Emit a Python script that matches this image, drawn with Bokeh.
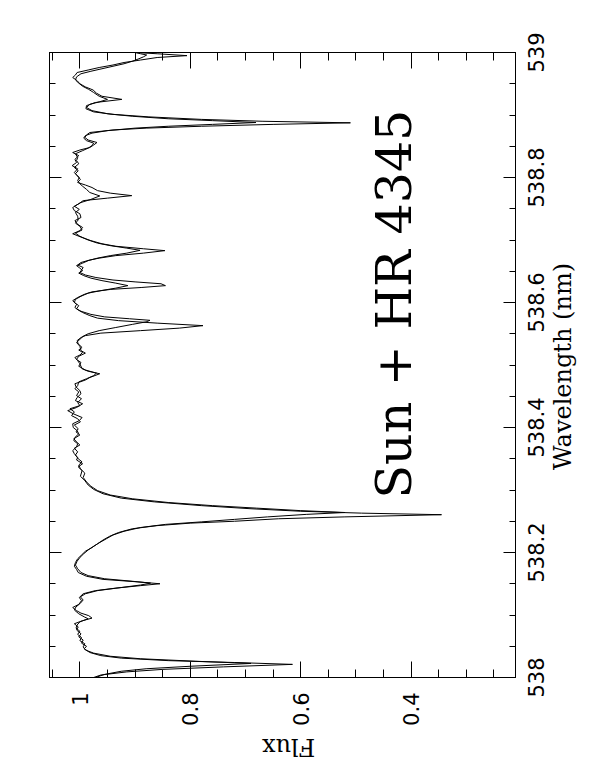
import math
from bokeh.plotting import figure
from bokeh.models import Range1d, LinearAxis, FixedTicker, Label
from bokeh.embed import file_html
from bokeh.resources import INLINE

# Spectrum 1 (wavelength in nm, normalised flux)
wl_a = [538.000, 538.004, 538.009, 538.013, 538.017, 538.021, 538.024, 538.027, 538.031, 538.035,
        538.040, 538.046, 538.050, 538.055, 538.060, 538.065, 538.070, 538.076, 538.081, 538.086,
        538.091, 538.095, 538.099, 538.103, 538.107, 538.112, 538.117, 538.123, 538.128, 538.134,
        538.139, 538.143, 538.147, 538.150, 538.153, 538.157, 538.162, 538.168, 538.173, 538.178,
        538.184, 538.190, 538.196, 538.202, 538.208, 538.214, 538.220, 538.226, 538.232, 538.238,
        538.243, 538.247, 538.250, 538.254, 538.257, 538.2605, 538.263, 538.266, 538.270, 538.275,
        538.281, 538.287, 538.294, 538.301, 538.308, 538.315, 538.322, 538.331, 538.337, 538.342,
        538.348, 538.352, 538.358, 538.363, 538.369, 538.374, 538.379, 538.384, 538.390, 538.395,
        538.400, 538.406, 538.411, 538.416, 538.422, 538.427, 538.432, 538.438, 538.443, 538.448,
        538.454, 538.459, 538.465, 538.470, 538.476, 538.480, 538.486, 538.490, 538.494, 538.502,
        538.507, 538.512, 538.516, 538.520, 538.524, 538.528, 538.534, 538.539, 538.544, 538.547,
        538.551, 538.555, 538.559, 538.563, 538.567, 538.571, 538.575, 538.579, 538.584, 538.588,
        538.592, 538.597, 538.603, 538.608, 538.613, 538.617, 538.621, 538.624, 538.627, 538.630,
        538.633, 538.636, 538.640, 538.644, 538.648, 538.652, 538.656, 538.660, 538.664, 538.668,
        538.671, 538.675, 538.679, 538.683, 538.686, 538.690, 538.694, 538.699, 538.704, 538.710,
        538.715, 538.720, 538.725, 538.731, 538.736, 538.742, 538.747, 538.752, 538.758, 538.763,
        538.767, 538.771, 538.775, 538.779, 538.784, 538.788, 538.792, 538.797, 538.803, 538.808,
        538.814, 538.819, 538.824, 538.829, 538.835, 538.840, 538.844, 538.848, 538.852, 538.856,
        538.860, 538.864, 538.868, 538.872, 538.876, 538.879, 538.882, 538.885, 538.8875, 538.890,
        538.893, 538.897, 538.901, 538.905, 538.910, 538.915, 538.920, 538.925, 538.930, 538.935,
        538.940, 538.945, 538.950, 538.955, 538.960, 538.964, 538.968, 538.972, 538.976, 538.980,
        538.984, 538.988, 538.992, 538.995, 538.998, 539.000]
flux_a = [0.975, 0.962, 0.915, 0.850, 0.740, 0.615, 0.720, 0.840, 0.925, 0.962,
          0.982, 0.992, 0.988, 0.997, 0.994, 1.002, 0.998, 1.006, 1.003, 1.010,
          0.995, 0.978, 0.984, 0.998, 1.006, 1.013, 1.002, 0.997, 1.001, 0.994,
          0.972, 0.935, 0.890, 0.855, 0.895, 0.958, 0.988, 1.003, 1.006, 1.010,
          1.008, 1.004, 0.997, 0.990, 0.978, 0.968, 0.958, 0.946, 0.930, 0.905,
          0.860, 0.800, 0.720, 0.640, 0.520, 0.345, 0.490, 0.600, 0.690, 0.780,
          0.865, 0.925, 0.958, 0.975, 0.985, 0.991, 0.999, 0.996, 1.003, 0.995,
          1.006, 1.004, 1.010, 1.013, 1.006, 1.004, 1.011, 1.009, 1.002, 1.005,
          1.012, 1.013, 1.001, 0.996, 1.012, 1.022, 1.006, 0.995, 1.008, 1.005,
          0.998, 1.000, 1.007, 1.009, 0.990, 0.982, 0.964, 0.985, 0.996, 1.000,
          1.004, 1.009, 1.000, 0.995, 1.002, 0.996, 1.003, 1.005, 0.998, 0.990,
          0.962, 0.890, 0.820, 0.777, 0.860, 0.930, 0.968, 0.982, 0.995, 1.003,
          1.009, 1.006, 1.013, 1.004, 0.992, 0.978, 0.944, 0.889, 0.845, 0.853,
          0.900, 0.940, 0.971, 0.990, 1.000, 0.997, 0.994, 1.004, 0.998, 0.982,
          0.965, 0.935, 0.885, 0.846, 0.885, 0.935, 0.960, 0.980, 0.996, 1.013,
          1.000, 0.995, 1.004, 1.009, 0.998, 1.000, 1.010, 1.013, 1.002, 0.994,
          0.950, 0.906, 0.945, 0.968, 0.978, 0.990, 1.004, 0.999, 1.005, 1.010,
          1.004, 1.014, 1.006, 1.009, 1.002, 1.013, 1.000, 0.982, 0.975, 0.969,
          0.985, 0.991, 0.988, 0.982, 0.940, 0.880, 0.780, 0.650, 0.510, 0.670,
          0.780, 0.875, 0.940, 0.975, 0.989, 0.988, 0.972, 0.924, 0.960, 0.970,
          0.976, 0.990, 1.000, 1.005, 1.013, 1.008, 1.005, 0.985, 0.965, 0.940,
          0.920, 0.890, 0.860, 0.806, 0.860, 0.900]

# Spectrum 2
wl_b = [538.000, 538.005, 538.010, 538.014, 538.018, 538.0225, 538.026, 538.030, 538.034, 538.039,
        538.044, 538.049, 538.054, 538.059, 538.064, 538.069, 538.074, 538.079, 538.084, 538.089,
        538.094, 538.097, 538.102, 538.108, 538.113, 538.118, 538.124, 538.129, 538.134, 538.139,
        538.144, 538.148, 538.151, 538.154, 538.158, 538.163, 538.168, 538.174, 538.180, 538.186,
        538.192, 538.198, 538.204, 538.210, 538.216, 538.222, 538.228, 538.234, 538.240, 538.245,
        538.249, 538.253, 538.257, 538.261, 538.264, 538.267, 538.271, 538.275, 538.280, 538.286,
        538.292, 538.299, 538.306, 538.313, 538.320, 538.327, 538.334, 538.340, 538.345, 538.350,
        538.356, 538.361, 538.367, 538.372, 538.377, 538.382, 538.388, 538.393, 538.398, 538.404,
        538.409, 538.414, 538.419, 538.425, 538.430, 538.435, 538.440, 538.446, 538.451, 538.457,
        538.462, 538.467, 538.473, 538.478, 538.483, 538.487, 538.492, 538.498, 538.504, 538.509,
        538.514, 538.519, 538.523, 538.530, 538.536, 538.541, 538.546, 538.550, 538.555, 538.560,
        538.565, 538.569, 538.5715, 538.574, 538.577, 538.581, 538.586, 538.590, 538.595, 538.600,
        538.605, 538.610, 538.615, 538.619, 538.623, 538.627, 538.631, 538.635, 538.639, 538.643,
        538.647, 538.651, 538.655, 538.659, 538.663, 538.667, 538.671, 538.675, 538.679, 538.6835,
        538.687, 538.691, 538.695, 538.700, 538.706, 538.711, 538.716, 538.722, 538.727, 538.732,
        538.738, 538.744, 538.749, 538.754, 538.760, 538.765, 538.7705, 538.776, 538.781, 538.786,
        538.790, 538.795, 538.800, 538.806, 538.811, 538.816, 538.822, 538.827, 538.832, 538.838,
        538.843, 538.847, 538.851, 538.855, 538.859, 538.863, 538.867, 538.871, 538.875, 538.879,
        538.882, 538.885, 538.888, 538.891, 538.894, 538.898, 538.902, 538.907, 538.912, 538.917,
        538.921, 538.925, 538.930, 538.936, 538.941, 538.946, 538.951, 538.956, 538.961, 538.966,
        538.970, 538.974, 538.978, 538.982, 538.986, 538.990, 538.993, 538.996, 538.998, 539.000]
flux_b = [0.972, 0.955, 0.925, 0.880, 0.800, 0.690, 0.790, 0.890, 0.945, 0.975,
          0.990, 0.994, 0.991, 1.000, 0.997, 1.004, 1.000, 1.007, 1.005, 1.000,
          0.985, 0.992, 1.002, 1.010, 1.007, 1.000, 0.994, 0.999, 0.990, 0.968,
          0.925, 0.890, 0.872, 0.905, 0.955, 0.985, 0.998, 1.004, 1.008, 1.005,
          1.000, 0.993, 0.985, 0.975, 0.964, 0.952, 0.940, 0.920, 0.890, 0.845,
          0.780, 0.720, 0.660, 0.590, 0.520, 0.600, 0.680, 0.760, 0.840, 0.905,
          0.945, 0.968, 0.980, 0.988, 0.994, 0.991, 0.999, 1.002, 0.996, 1.003,
          1.008, 1.004, 1.010, 1.000, 1.006, 1.011, 1.000, 1.007, 1.003, 1.010,
          0.999, 1.004, 1.015, 1.010, 1.018, 1.000, 1.004, 0.997, 1.006, 1.002,
          1.009, 1.004, 1.002, 0.988, 0.975, 0.970, 0.990, 1.002, 0.998, 1.006,
          1.002, 0.990, 0.998, 1.000, 1.006, 1.000, 0.994, 0.985, 0.965, 0.935,
          0.905, 0.880, 0.873, 0.910, 0.955, 0.980, 0.998, 1.006, 1.002, 1.010,
          1.008, 0.998, 0.985, 0.962, 0.935, 0.913, 0.935, 0.960, 0.980, 0.993,
          1.002, 0.995, 1.000, 1.006, 0.995, 0.985, 0.968, 0.945, 0.915, 0.891,
          0.915, 0.945, 0.968, 0.985, 1.000, 1.008, 0.996, 1.000, 1.008, 1.003,
          1.004, 1.008, 1.001, 1.010, 0.998, 0.980, 0.964, 0.982, 0.988, 0.995,
          1.000, 1.004, 1.001, 1.008, 1.003, 1.010, 1.002, 1.006, 1.004, 1.008,
          0.995, 0.985, 0.978, 0.975, 0.988, 0.993, 0.990, 0.978, 0.950, 0.900,
          0.840, 0.760, 0.681, 0.760, 0.840, 0.905, 0.950, 0.978, 0.988, 0.982,
          0.965, 0.950, 0.965, 0.975, 0.984, 0.995, 1.002, 1.008, 1.006, 0.998,
          0.980, 0.960, 0.940, 0.920, 0.905, 0.893, 0.885, 0.879, 0.890, 0.900]

wl_ticks = [538.0, 538.2, 538.4, 538.6, 538.8, 539.0]
wl_tick_labels = ["538", "538.2", "538.4", "538.6", "538.8", "539"]
flux_ticks = [0.4, 0.6, 0.8, 1.0]
flux_tick_labels = ["0.4", "0.6", "0.8", "1"]
wl_minor = [round(538.0 + 0.05 * i, 2) for i in range(21)]
flux_minor = [round(0.25 + 0.05 * i, 2) for i in range(17)]

X_LO, X_HI = 1.055, 0.211
Y_LO, Y_HI = 538.0, 539.0

p = figure(frame_width=466, frame_height=625,
           x_range=Range1d(X_LO, X_HI), y_range=Range1d(Y_LO, Y_HI),
           x_axis_location="below", y_axis_location="right",
           output_backend="svg", toolbar_location=None,
           min_border_left=49, min_border_right=76,
           min_border_top=52, min_border_bottom=89)
p.xgrid.visible = False
p.ygrid.visible = False
p.outline_line_color = "black"
p.background_fill_color = "white"
p.border_fill_color = "white"

bottom_ax = p.below[0]
right_ax = p.right[0]
top_ax = LinearAxis()
left_ax = LinearAxis()
p.add_layout(top_ax, "above")
p.add_layout(left_ax, "left")


def style(ax, ticks, minor, major_in, minor_in):
    ax.ticker = FixedTicker(ticks=ticks, minor_ticks=minor)
    ax.major_label_overrides = {t: "" for t in ticks}
    ax.major_tick_in = major_in
    ax.major_tick_out = 0
    ax.minor_tick_in = minor_in
    ax.minor_tick_out = 0
    ax.axis_line_color = "black"
    ax.major_tick_line_color = "black"
    ax.minor_tick_line_color = "black"
    ax.major_label_text_font_size = "1px"
    ax.major_label_standoff = 0


style(bottom_ax, flux_ticks, flux_minor, 16, 8)
style(top_ax, flux_ticks, flux_minor, 16, 8)
style(right_ax, wl_ticks, wl_minor, 12, 6)
style(left_ax, wl_ticks, wl_minor, 12, 6)

TICK_FONT = dict(text_font="DejaVu Sans", text_font_size="21px", text_color="black")
TITLE_FONT = dict(text_font="DejaVu Serif", text_font_size="24px", text_color="black")

# wavelength tick labels, centred on their ticks, reading upwards
for t, lab in zip(wl_ticks, wl_tick_labels):
    p.add_layout(Label(x=X_HI, y=t, x_offset=20, text=lab, angle=math.pi / 2,
                       text_align="center", text_baseline="middle", **TICK_FONT), "right")

# flux tick labels, ending just below the axis, reading upwards
for t, lab in zip(flux_ticks, flux_tick_labels):
    p.add_layout(Label(x=t, y=Y_LO, y_offset=-15, text=lab, angle=math.pi / 2,
                       text_align="right", text_baseline="middle", **TICK_FONT), "below")

# axis titles
p.add_layout(Label(x=X_HI, y=538.4976, x_offset=47, text="Wavelength (nm)", angle=math.pi / 2,
                   text_align="center", text_baseline="middle", **TITLE_FONT), "right")
p.add_layout(Label(x=0.622, y=Y_LO, y_offset=-69, text="Flux", angle=math.pi,
                   text_align="center", text_baseline="middle", **TITLE_FONT), "below")

p.line(x=flux_a, y=wl_a, line_color="black", line_width=1)
p.line(x=flux_b, y=wl_b, line_color="black", line_width=1)

p.add_layout(Label(x=0.4299, y=538.2864, text="Sun + HR 4345", angle=math.pi / 2,
                   text_font="DejaVu Serif", text_font_size="49px",
                   text_align="left", text_baseline="alphabetic", text_color="black"))

open("out.html", "w").write(file_html(p, INLINE))
